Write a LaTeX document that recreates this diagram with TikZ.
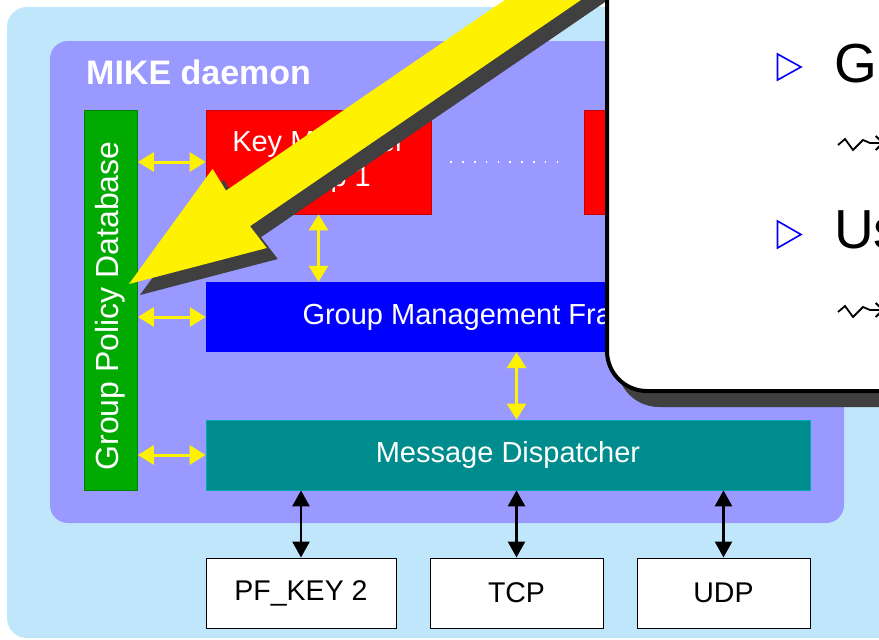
\documentclass[tikz,border=0pt]{standalone}
\usepackage{fontspec}
\setmainfont{Liberation Sans}
\usetikzlibrary{arrows.meta,calc}
\definecolor{outerblue}{RGB}{192,230,252}
\definecolor{mikepurple}{RGB}{153,153,255}
\definecolor{gpgreen}{RGB}{0,170,0}
\definecolor{gpgreenedge}{RGB}{0,130,0}
\definecolor{mdteal}{RGB}{0,140,140}
\definecolor{mdtealedge}{RGB}{0,170,180}
\definecolor{kmred}{RGB}{255,0,0}
\definecolor{kmrededge}{RGB}{200,0,0}
\definecolor{shadowgray}{RGB}{64,64,64}
\def\mikearrowpath{(129,284)--(212.6,168.8)--(226,190.6)--(858,-241.4)--(882,-205.8)--(250,226.2)--(266.8,248)--cycle}
\tikzset{
  blockbox/.style={rectangle, inner sep=0pt, text=white, font=\fontsize{29}{35}\selectfont, align=center},
  plainbox/.style={rectangle, inner sep=0pt, draw=black, line width=1pt, fill=white, text=black, font=\fontsize{28.5}{35}\selectfont},
  yarrow/.style={draw=yellow, line width=3pt, {Triangle[length=16pt,width=19pt]}-{Triangle[length=16pt,width=19pt]}},
  barrow/.style={draw=black, line width=2.7pt, {Triangle[length=16pt,width=17pt]}-{Triangle[length=16pt,width=17pt]}},
  dotline/.style={draw=white, line width=1.5pt, dash pattern=on 1.5pt off 10.3pt},
  bullettri/.style={draw=blue, line width=1.6pt, line join=miter},
  squiggle/.style={draw=black, line width=1.8pt, line join=miter, -{Straight Barb[length=7pt,width=14pt]}},
  calloutfont/.style={font=\fontsize{55}{55}\selectfont, inner sep=0pt, text=black}
}
\begin{document}
\begin{tikzpicture}[x=1pt,y=-1pt]
\useasboundingbox (0,0) rectangle (879,640);
\clip (0,0) rectangle (879,640);
% backgrounds
\fill[outerblue, rounded corners=20pt] (7,7) rectangle (920,638);
\fill[mikepurple, rounded corners=18pt] (50,41) rectangle (844,523);
\node[anchor=base west, inner sep=0pt, text=white, font=\bfseries\fontsize{34}{34}\selectfont] (title) at (86,84) {MIKE daemon};
% blocks
\node[blockbox, fill=gpgreen, draw=gpgreenedge, line width=0.8pt, minimum width=53pt, minimum height=380pt] (gpd) at (111,300) {};
\node[rotate=90, inner sep=0pt, text=white, font=\fontsize{32}{38}\selectfont] (gpdtext) at (110,306) {Group Policy Database};
\node[blockbox, fill=kmred, draw=kmrededge, line width=0.8pt, minimum width=225pt, minimum height=104pt] (km1) at (318.5,162) {Key Manager\\Group 1};
\node[blockbox, fill=kmred, draw=kmrededge, line width=0.8pt, minimum width=225pt, minimum height=104pt] (km2) at (696.5,162) {};
\node[blockbox, fill=blue, minimum width=604pt, minimum height=70pt] (gmf) at (508,317) {Group Management Framework};
\node[blockbox, fill=mdteal, draw=mdtealedge, line width=0.8pt, minimum width=604pt, minimum height=70pt] (md) at (508,455) {Message Dispatcher};
\node[plainbox, minimum width=190pt, minimum height=70pt] (pf) at (301,593) {PF\_KEY 2};
\node[plainbox, minimum width=173pt, minimum height=70pt] (tcp) at (516.5,593) {TCP};
\node[plainbox, minimum width=173pt, minimum height=70pt] (udp) at (723.5,593) {UDP};
% connectors
\draw[dotline, shorten <=19pt, shorten >=16pt] (km1.east) -- (km2.west);
\draw[yarrow] (km1.west -| gpd.east) -- (km1.west);
\draw[yarrow] (gmf.west -| gpd.east) -- (gmf.west);
\draw[yarrow] (md.west -| gpd.east) -- (md.west);
\draw[yarrow] (km1.south) -- (km1.south |- gmf.north);
\draw[yarrow] (gmf.south -| tcp.north) -- (md.north -| tcp.north);
\draw[barrow] (pf.north |- md.south) -- (pf.north);
\draw[barrow] (tcp.north |- md.south) -- (tcp.north);
\draw[barrow] (udp.north |- md.south) -- (udp.north);
% big pointer arrow
\begin{scope}[shift={(11,11)}]
\fill[shadowgray] \mikearrowpath;
\end{scope}
\fill[yellow] \mikearrowpath;
% callout
\fill[shadowgray, rounded corners=42pt] (617,-80) rectangle (1020,407);
\filldraw[fill=white, draw=black, line width=4pt, rounded corners=40pt] (607,-80) rectangle (1010,391);
\draw[bullettri] (777.5,54) -- (801,67) -- (777.5,80) -- cycle;
\draw[bullettri] (777.5,221) -- (801,234.5) -- (777.5,248) -- cycle;
\node[calloutfont, anchor=base west] (item1) at (834,82) {G};
\node[calloutfont, anchor=base west] (item2) at (834,248) {Us};
\coordinate (sq1end) at (884,143);
\coordinate (sq2end) at (884,310);
\draw[squiggle] (838,145) -- (845,139) -- (853,150) -- (863,140) -- (870,143) -- (sq1end);
\draw[squiggle] (838,312) -- (845,306) -- (853,317) -- (863,307) -- (870,310) -- (sq2end);
\end{tikzpicture}
\end{document}
